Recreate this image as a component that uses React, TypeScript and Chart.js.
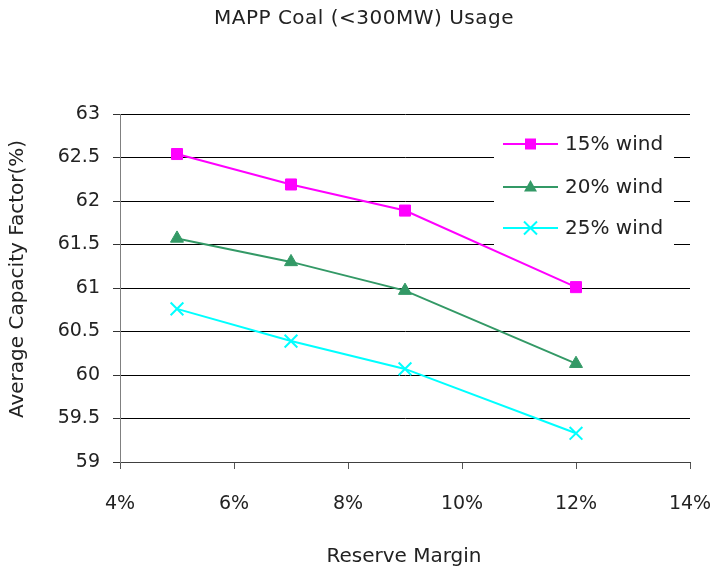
import React, { useEffect, useRef } from "react";
import { Chart, registerables } from "chart.js";

Chart.register(...registerables);

const reserveMargins = [5, 7, 9, 12];
const wind15 = [62.54, 62.19, 61.89, 61.01];
const wind20 = [61.57, 61.3, 60.97, 60.13];
const wind25 = [60.76, 60.39, 60.07, 59.33];
const seriesNames = ["15% wind", "20% wind", "25% wind"];
const chartTitle = "MAPP Coal (<300MW) Usage";
const xTitle = "Reserve Margin";
const yTitle = "Average Capacity Factor(%)";

const FONT = "'DejaVu Sans', sans-serif";
const TEXT = "#222222";
const colors = ["#ff00ff", "#339966", "#00ffff"];
const styles = ["rect", "triangle", "crossRot"];

function drawMarker(ctx: CanvasRenderingContext2D, style: string, x: number, y: number, color: string) {
  ctx.save();
  ctx.fillStyle = color;
  ctx.strokeStyle = color;
  ctx.lineWidth = 2;
  if (style === "rect") {
    ctx.fillRect(x - 5.5, y - 5.5, 11, 11);
  } else if (style === "triangle") {
    ctx.beginPath();
    ctx.moveTo(x, y - 7);
    ctx.lineTo(x + 6.5, y + 4.5);
    ctx.lineTo(x - 6.5, y + 4.5);
    ctx.closePath();
    ctx.fill();
  } else {
    ctx.beginPath();
    ctx.moveTo(x - 6.5, y - 6.5);
    ctx.lineTo(x + 6.5, y + 6.5);
    ctx.moveTo(x + 6.5, y - 6.5);
    ctx.lineTo(x - 6.5, y + 6.5);
    ctx.stroke();
  }
  ctx.restore();
}

const textPlugin = {
  id: "customText",
  beforeDatasetsDraw(chart: any) {
    const ctx = chart.ctx as CanvasRenderingContext2D;
    ctx.save();
    ctx.fillStyle = "#ffffff";
    ctx.fillRect(494, 122, 180, 130);
    const rows = [144, 187, 228];
    seriesNames.forEach((name, i) => {
      const y = rows[i];
      ctx.strokeStyle = colors[i];
      ctx.lineWidth = 2;
      ctx.beginPath();
      ctx.moveTo(503, y);
      ctx.lineTo(558, y);
      ctx.stroke();
      drawMarker(ctx, styles[i], 530.5, y, colors[i]);
      ctx.fillStyle = TEXT;
      ctx.font = `20px ${FONT}`;
      ctx.textAlign = "left";
      ctx.textBaseline = "middle";
      ctx.fillText(name, 565, y + 1);
    });
    ctx.restore();
  },
  afterDraw(chart: any) {
    const ctx = chart.ctx as CanvasRenderingContext2D;
    ctx.save();
    ctx.fillStyle = TEXT;
    ctx.textAlign = "center";
    ctx.textBaseline = "middle";
    ctx.font = `20px ${FONT}`;
    (ctx as any).letterSpacing = "0.5px";
    ctx.fillText(chartTitle, 364, 19);
    (ctx as any).letterSpacing = "0px";
    ctx.fillText(xTitle, 404, 557);
    ctx.translate(18, 279);
    ctx.rotate(-Math.PI / 2);
    ctx.fillText(yTitle, 0, 0);
    ctx.restore();
  },
};

export default function App() {
  const ref = useRef<HTMLCanvasElement | null>(null);
  useEffect(() => {
    if (!ref.current) return;
    const mk = (i: number, vals: number[]) => ({
      label: seriesNames[i],
      data: reserveMargins.map((x, k) => ({ x, y: vals[k] })),
      borderColor: colors[i],
      backgroundColor: colors[i],
      borderWidth: 2,
      pointStyle: styles[i],
      pointRadius: i === 0 ? 7.8 : i === 1 ? 7.5 : 9,
      pointBorderWidth: i === 2 ? 2 : 1,
      tension: 0,
      fill: false,
    });
    const chart = new Chart(ref.current, {
      type: "line",
      data: { datasets: [mk(0, wind15), mk(1, wind20), mk(2, wind25)] },
      options: {
        animation: false,
        responsive: true,
        maintainAspectRatio: false,
        layout: { padding: { left: 0, right: 24, top: 114, bottom: 0 } },
        plugins: { legend: { display: false }, title: { display: false }, tooltip: { enabled: false } },
        scales: {
          x: {
            type: "linear",
            min: 4,
            max: 14,
            afterFit: (s: any) => { s.height = 111; s.paddingLeft = 0; s.paddingRight = 0; },
            ticks: {
              stepSize: 2,
              padding: 24,
              color: TEXT,
              font: { family: FONT, size: 19 },
              callback: (v: any) => `${v}%`,
            },
            grid: { drawOnChartArea: false, drawTicks: true, tickLength: 7, color: "#555555" },
            border: { color: "#404040", width: 1 },
          },
          y: {
            min: 59,
            max: 63,
            afterFit: (s: any) => { s.width = 120; s.paddingTop = 0; s.paddingBottom = 0; },
            ticks: {
              stepSize: 0.5,
              padding: 13,
              color: TEXT,
              font: { family: FONT, size: 19 },
              callback: (v: any) => String(Math.round(v * 10) / 10),
            },
            grid: { color: "#000000", tickLength: 7, tickColor: "#333333", lineWidth: 1 },
            border: { color: "#808080", width: 1 },
          },
        },
      },
      plugins: [textPlugin],
    } as any);
    return () => chart.destroy();
  }, []);
  return (
    <div style={{ position: "absolute", left: 0, top: 0, width: 714, height: 573, background: "#fff" }}>
      <canvas ref={ref} />
    </div>
  );
}
